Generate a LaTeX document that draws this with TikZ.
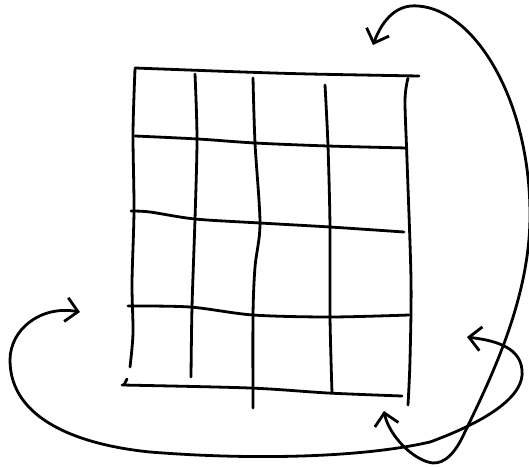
\documentclass[tikz,border=0pt]{standalone}
\usetikzlibrary{arrows.meta}

\tikzset{
  pen/.style={line width=2.8pt,line cap=round,line join=round},
  wrap/.style={pen,{Straight Barb[length=12pt,width=24pt]}-{Straight Barb[length=12pt,width=24pt]}}
}

\begin{document}
\begin{tikzpicture}[x=1pt,y=-1pt]
\useasboundingbox (0,0) rectangle (529,466);
{
\draw[pen] plot[smooth] coordinates {(135,68) (243,72) (310,74) (419,76)};
\draw[pen] plot[smooth] coordinates {(135,136) (198,139) (255,143) (328,146) (407,148)};
\draw[pen] plot[smooth] coordinates {(131,211) (150,212) (195,219) (260,223) (330,227) (404,232)};
\draw[pen] plot[smooth] coordinates {(128,306) (190,307) (253,315) (330,317) (409,315)};
\draw[pen] (127,379) -- (124,385);
\draw[pen] plot[smooth] coordinates {(122,385) (250,388) (328,393) (402,396)};

\draw[pen] plot[smooth] coordinates {(135,69) (133,133) (134,210) (132,283) (133,333) (130,367)};
\draw[pen] plot[smooth] coordinates {(195,74) (197,139) (195,219) (192,307) (191,377)};
\draw[pen] plot[smooth] coordinates {(253,78) (255,143) (260,223) (255,267) (253,315) (253,408)};
\draw[pen] plot[smooth] coordinates {(325,85) (328,146) (330,227) (330,317) (332,393)};
\draw[pen] plot[smooth] coordinates {(408,78) (405,100) (407,160) (411,280) (410,360) (408,405)};
}
\coordinate (topend) at (373,45);
\coordinate (botend) at (384,411);
\coordinate (leftend) at (80,312);
\coordinate (rightend) at (467,337);

\draw[wrap] (topend) .. controls (383,18) and (398,4) .. (418,6)
  .. controls (475,10) and (530,100) .. (530,215)
  .. controls (530,300) and (490,380) .. (462,438)
  .. controls (452,458) and (440,466) .. (428,462)
  .. controls (408,456) and (388,432) .. (botend);
\draw[wrap] (leftend) .. controls (40,305) and (10,330) .. (10,360)
  .. controls (10,420) and (80,445) .. (150,452)
  .. controls (250,460) and (360,458) .. (430,442)
  .. controls (490,420) and (525,395) .. (522,370)
  .. controls (520,345) and (490,340) .. (rightend);
\end{tikzpicture}
\end{document}
